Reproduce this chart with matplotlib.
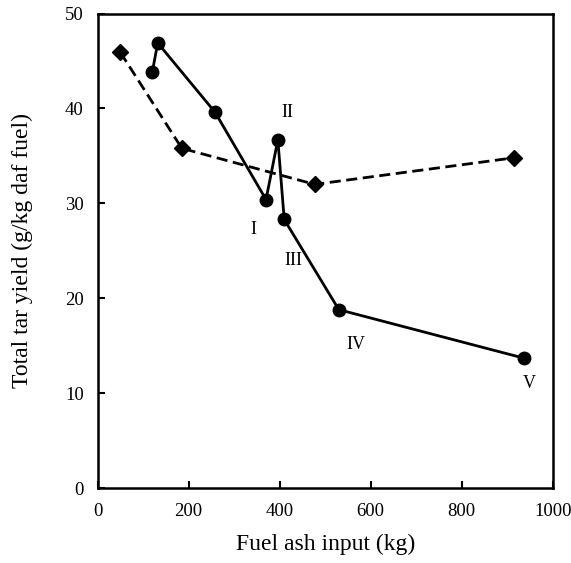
import matplotlib
matplotlib.use("Agg")
import matplotlib.pyplot as plt

plt.rcParams['font.family'] = ['Liberation Serif', 'DejaVu Serif']

# dashed series (diamonds)
ash_d = [50, 185, 477, 915]
tar_d = [45.9, 35.8, 32.0, 34.8]

# solid series (circles)
ash_c = [120, 132, 258, 370, 396, 410, 530, 936]
tar_c = [43.8, 46.9, 39.6, 30.4, 36.7, 28.3, 18.8, 13.7]

# roman numeral labels
lab_text = ["I", "II", "III", "IV", "V"]
lab_x = [342, 416, 430, 568, 948]
lab_y = [27.2, 39.6, 24.0, 15.1, 11.0]

fig = plt.figure(figsize=(5.71, 5.63), dpi=100)
ax = fig.add_axes([0.171, 0.133, 0.797, 0.843])

ax.plot(ash_d, tar_d, color='black', linestyle=(0, (4, 2)), linewidth=2,
        marker='D', markersize=8.5)
ax.plot(ash_c, tar_c, color='black', linestyle='-', linewidth=2,
        marker='o', markersize=9)

for t, x, y in zip(lab_text, lab_x, lab_y):
    ax.text(x, y, t, fontsize=13, ha='center', va='center')

ax.set_xlim(0, 1000)
ax.set_ylim(0, 50)
ax.set_xticks([0, 200, 400, 600, 800, 1000])
ax.set_yticks([0, 10, 20, 30, 40, 50])
ax.tick_params(direction='in', length=5, width=1.5, labelsize=13.5)
ax.tick_params(axis='x', pad=11)
ax.tick_params(axis='y', pad=10)
for s in ax.spines.values():
    s.set_linewidth(1.8)

ax.set_xlabel("Fuel ash input (kg)", fontsize=17, labelpad=10)
ax.set_ylabel("Total tar yield (g/kg daf fuel)", fontsize=17, labelpad=23)

fig.savefig("out.png", dpi=100)
